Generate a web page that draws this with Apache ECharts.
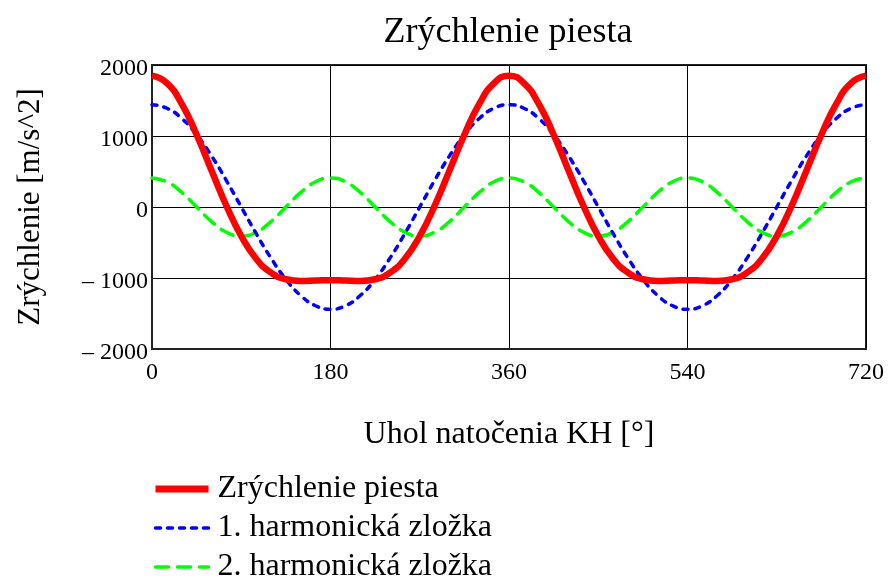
<!DOCTYPE html>
<html>
<head>
<meta charset="utf-8">
<script src="https://cdn.jsdelivr.net/npm/echarts@6/dist/echarts.min.js"></script>
<style>
  html, body { margin: 0; padding: 0; background: #fff; }
  #chart { width: 892px; height: 580px; }
</style>
</head>
<body>
<div id="chart"></div>
<script>
// uhol natocenia KH [deg]
var angles = [0, 15, 30, 45, 60, 75, 90, 105, 120, 135, 150, 165, 180,
    195, 210, 225, 240, 255, 270, 285, 300, 315, 330, 345, 360,
    375, 390, 405, 420, 435, 450, 465, 480, 495, 510, 525, 540,
    555, 570, 585, 600, 615, 630, 645, 660, 675, 690, 705, 720];

// zrychlenie piesta [m/s^2]
var accel = [1850, 1746, 1452, 1018, 515, 18, -410, -728, -925, -1018, -1042, -1036, -1030,
    -1036, -1042, -1018, -925, -728, -410, 18, 515, 1018, 1452, 1746, 1850,
    1746, 1452, 1018, 515, 18, -410, -728, -925, -1018, -1042, -1036, -1030,
    -1036, -1042, -1018, -925, -728, -410, 18, 515, 1018, 1452, 1746, 1850];

// 1. harmonicka zlozka
var harm1 = [1440, 1391, 1247, 1018, 720, 373, 0, -373, -720, -1018, -1247, -1391, -1440,
    -1391, -1247, -1018, -720, -373, 0, 373, 720, 1018, 1247, 1391, 1440,
    1391, 1247, 1018, 720, 373, 0, -373, -720, -1018, -1247, -1391, -1440,
    -1391, -1247, -1018, -720, -373, 0, 373, 720, 1018, 1247, 1391, 1440];

// 2. harmonicka zlozka
var harm2 = [410, 355, 205, 0, -205, -355, -410, -355, -205, 0, 205, 355, 410,
    355, 205, 0, -205, -355, -410, -355, -205, 0, 205, 355, 410,
    355, 205, 0, -205, -355, -410, -355, -205, 0, 205, 355, 410,
    355, 205, 0, -205, -355, -410, -355, -205, 0, 205, 355, 410];

var seriesNames = ['Zrýchlenie piesta', '1. harmonická zložka', '2. harmonická zložka'];

function pairs(ys) {
    var out = [];
    for (var i = 0; i < angles.length; i++) {
        out.push([angles[i], ys[i]]);
    }
    return out;
}

var font = 'Liberation Serif';
var chart = echarts.init(document.getElementById('chart'));

var option = {
    backgroundColor: '#fff',
    animation: false,
    title: {
        text: 'Zrýchlenie piesta',
        left: 503,
        textAlign: 'center',
        top: 10,
        textStyle: {
            fontFamily: font,
            fontSize: 36,
            fontWeight: 'normal',
            color: '#000'
        }
    },
    legend: {
        orient: 'vertical',
        left: 152,
        top: 473,
        height: 140,
        padding: 0,
        itemWidth: 53,
        itemHeight: 14,
        itemGap: 7,
        itemStyle: { opacity: 0 },
        textStyle: {
            fontFamily: font,
            fontSize: 32,
            color: '#000',
            padding: [0, 0, 0, 4]
        },
        data: [
            { name: seriesNames[0], lineStyle: { width: 7 } },
            { name: seriesNames[1], lineStyle: { width: 3.5 } },
            { name: seriesNames[2], lineStyle: { width: 3.5 } }
        ]
    },
    grid: {
        left: 152,
        right: 26,
        top: 65,
        bottom: 231,
        show: true,
        borderColor: '#222',
        borderWidth: 2
    },
    xAxis: {
        type: 'value',
        min: 0,
        max: 720,
        interval: 180,
        name: 'Uhol natočenia KH [°]',
        nameLocation: 'middle',
        nameGap: 70,
        nameTextStyle: {
            fontFamily: font,
            fontSize: 32,
            color: '#000'
        },
        axisLine: { show: true, onZero: false, lineStyle: { color: '#222', width: 2 } },
        axisTick: { show: false },
        axisLabel: {
            fontFamily: font,
            fontSize: 24,
            color: '#000',
            margin: 12
        },
        splitLine: { show: true, lineStyle: { color: '#000', width: 1 } }
    },
    yAxis: {
        type: 'value',
        min: -2000,
        max: 2000,
        interval: 1000,
        name: 'Zrýchlenie [m/s^2]',
        nameLocation: 'middle',
        nameGap: 106,
        nameTextStyle: {
            fontFamily: font,
            fontSize: 31,
            color: '#000'
        },
        axisLine: { show: true, onZero: false, lineStyle: { color: '#222', width: 2 } },
        axisTick: { show: false },
        axisLabel: {
            margin: 4,
            formatter: function (v) {
                var s = v < 0 ? '\u2013 ' + Math.abs(v) : String(v);
                return '{v|' + s + '}';
            },
            rich: {
                v: {
                    fontFamily: font,
                    fontSize: 24,
                    color: '#000',
                    padding: [8, 0, 0, 0]
                }
            }
        },
        splitLine: { show: true, lineStyle: { color: '#000', width: 1 } }
    },
    series: [
        {
            name: seriesNames[0],
            type: 'line',
            smooth: true,
            symbol: 'none',
            z: 3,
            itemStyle: { color: '#ff0000' },
            lineStyle: { color: '#ff0000', width: 6.5 },
            data: pairs(accel)
        },
        {
            name: seriesNames[1],
            type: 'line',
            smooth: true,
            symbol: 'none',
            z: 2,
            itemStyle: { color: '#0000ff' },
            lineStyle: { color: '#0000ff', width: 3.5, type: [5, 7], cap: 'round' },
            data: pairs(harm1)
        },
        {
            name: seriesNames[2],
            type: 'line',
            smooth: true,
            symbol: 'none',
            z: 1,
            itemStyle: { color: '#00ff00' },
            lineStyle: { color: '#00ff00', width: 3.5, type: [13, 9], cap: 'round' },
            data: pairs(harm2)
        }
    ]
};

chart.setOption(option);
</script>
</body>
</html>
